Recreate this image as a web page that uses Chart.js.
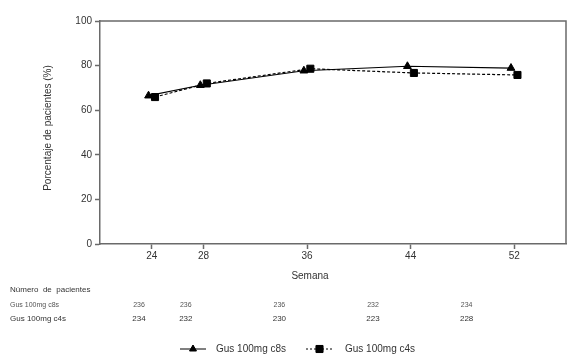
<!DOCTYPE html>
<html>
<head>
<meta charset="utf-8">
<script src="https://cdn.jsdelivr.net/npm/chart.js@4.4.0/dist/chart.umd.min.js"></script>
<style>
  html, body { margin: 0; padding: 0; background: #fff; }
  #wrap { width: 572px; height: 356px; position: relative; }
</style>
</head>
<body>
<div id="wrap"><canvas id="chart" width="572" height="356"></canvas></div>
<script>
const weeks = [24, 28, 36, 44, 52];
const yTicks = [0, 20, 40, 60, 80, 100];
const seriesNames = ['Gus 100mg c8s', 'Gus 100mg c4s'];
const c8sValues = [66.5, 71.2, 77.7, 79.7, 78.9];
const c4sValues = [65.9, 72.0, 78.6, 76.7, 75.8];
const c8sCounts = [236, 236, 236, 232, 234];
const c4sCounts = [234, 232, 230, 223, 228];

const FONT = '"Liberation Sans", Arial, sans-serif';
const AXIS = '#6a6a6a';
const TEXT = '#333';

// markers are nudged a little left/right of the week so they don't overlap
const shift = 0.25;

const frameAndText = {
    id: 'frameAndText',
    afterDraw(chart) {
        const ctx = chart.ctx;
        const a = chart.chartArea;
        ctx.save();
        ctx.strokeStyle = AXIS;
        ctx.lineWidth = 1.5;
        ctx.beginPath();
        ctx.moveTo(a.left, a.top);
        ctx.lineTo(a.right, a.top);
        ctx.lineTo(a.right, a.bottom);
        ctx.stroke();

        ctx.fillStyle = TEXT;
        ctx.font = '10px ' + FONT;
        ctx.textAlign = 'center';
        ctx.textBaseline = 'middle';
        ctx.fillText('Semana', 310, 276);

        ctx.save();
        ctx.translate(48, 128);
        ctx.rotate(-Math.PI / 2);
        ctx.fillText('Porcentaje de pacientes (%)', 0, 0);
        ctx.restore();

        // patients-at-risk table
        ctx.textAlign = 'left';
        ctx.font = '8px ' + FONT;
        ctx.fillText('Número  de  pacientes', 10, 290);
        ctx.font = '7px ' + FONT;
        ctx.fillStyle = '#555';
        ctx.fillText(seriesNames[0], 10, 305);
        ctx.font = '8px ' + FONT;
        ctx.fillStyle = TEXT;
        ctx.fillText(seriesNames[1], 10, 319);
        ctx.textAlign = 'center';
        weeks.forEach((w, i) => {
            const x = 139 + (w - 24) * 11.7;
            ctx.font = '7px ' + FONT;
            ctx.fillStyle = '#555';
            ctx.fillText(String(c8sCounts[i]), x, 305);
            ctx.font = '8px ' + FONT;
            ctx.fillStyle = TEXT;
            ctx.fillText(String(c4sCounts[i]), x, 319);
        });

        // legend
        const ly = 349;
        ctx.strokeStyle = '#000';
        ctx.fillStyle = '#000';
        ctx.lineWidth = 1;
        ctx.setLineDash([]);
        ctx.beginPath();
        ctx.moveTo(180, ly); ctx.lineTo(206, ly); ctx.stroke();
        Chart.helpers.drawPoint(ctx, { pointStyle: 'triangle', radius: 4, borderWidth: 1 }, 193, ly);
        ctx.fill();
        ctx.setLineDash([2, 2]);
        ctx.beginPath();
        ctx.moveTo(306, ly); ctx.lineTo(333, ly); ctx.stroke();
        ctx.setLineDash([]);
        Chart.helpers.drawPoint(ctx, { pointStyle: 'rect', radius: 5, borderWidth: 1 }, 319.5, ly);
        ctx.fill();
        ctx.fillStyle = TEXT;
        ctx.font = '10px ' + FONT;
        ctx.textAlign = 'left';
        ctx.fillText(seriesNames[0], 216, ly);
        ctx.fillText(seriesNames[1], 345, ly);
        ctx.restore();
    }
};

new Chart(document.getElementById('chart'), {
    type: 'line',
    data: {
        datasets: [
            {
                label: seriesNames[0],
                data: weeks.map((w, i) => ({ x: w - shift, y: c8sValues[i] })),
                borderColor: '#000',
                backgroundColor: '#000',
                borderWidth: 1.2,
                pointStyle: 'triangle',
                pointRadius: 4.5,
                pointBorderWidth: 1
            },
            {
                label: seriesNames[1],
                data: weeks.map((w, i) => ({ x: w + shift, y: c4sValues[i] })),
                borderColor: '#000',
                backgroundColor: '#000',
                borderWidth: 1.2,
                borderDash: [3, 2],
                pointStyle: 'rect',
                pointRadius: 5,
                pointBorderWidth: 1
            }
        ]
    },
    options: {
        responsive: false,
        animation: false,
        layout: { padding: { left: 0, right: 6, top: 21, bottom: 0 } },
        plugins: { legend: { display: false }, tooltip: { enabled: false } },
        scales: {
            x: {
                type: 'linear',
                min: 20,
                max: 56,
                afterBuildTicks: (scale) => { scale.ticks = weeks.map(v => ({ value: v })); },
                afterFit: (scale) => { scale.height = 356 - 244; },
                grid: { drawOnChartArea: false, tickLength: 5, tickColor: AXIS, tickWidth: 1.5 },
                border: { color: AXIS, width: 1.5 },
                ticks: { color: TEXT, font: { family: FONT, size: 10 }, padding: 1, autoSkip: false, maxRotation: 0 }
            },
            y: {
                min: 0,
                max: 100,
                afterBuildTicks: (scale) => { scale.ticks = yTicks.map(v => ({ value: v })); },
                afterFit: (scale) => { scale.width = 100; },
                grid: { drawOnChartArea: false, tickLength: 5, tickColor: AXIS, tickWidth: 1.5 },
                border: { color: AXIS, width: 1.5 },
                ticks: { color: TEXT, font: { family: FONT, size: 10 }, padding: 3 }
            }
        }
    },
    plugins: [frameAndText]
});
</script>
</body>
</html>
